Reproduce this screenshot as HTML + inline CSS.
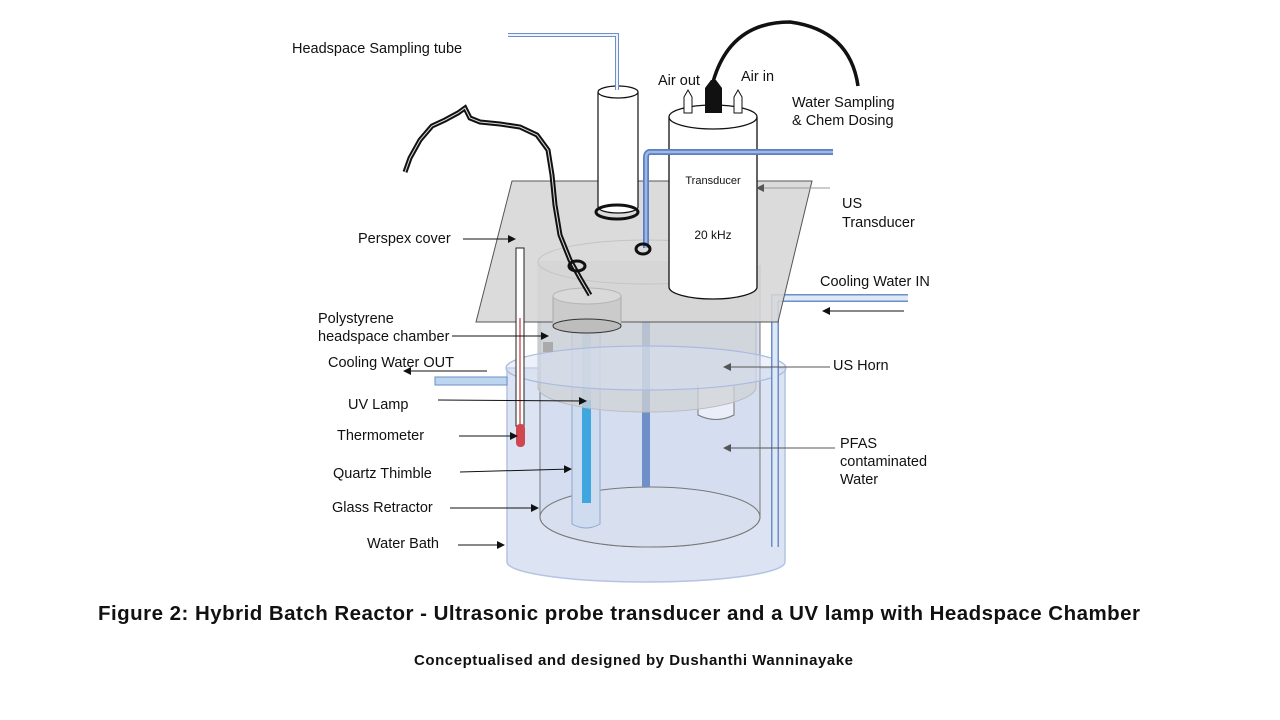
<!DOCTYPE html>
<html><head><meta charset="utf-8"><style>
html,body{margin:0;padding:0;background:#fff;}
svg{display:block;}
text{font-family:"Liberation Sans",Arial,sans-serif;fill:#111;}
</style></head><body>
<svg width="1280" height="720" viewBox="0 0 1280 720" xmlns="http://www.w3.org/2000/svg">
<defs>
<marker id="a" markerWidth="8" markerHeight="8" refX="7" refY="4" orient="auto" markerUnits="userSpaceOnUse"><path d="M0,0 L8,4 L0,8 z" fill="#111"/></marker>
<marker id="g" markerWidth="8" markerHeight="8" refX="7" refY="4" orient="auto" markerUnits="userSpaceOnUse"><path d="M0,0 L8,4 L0,8 z" fill="#555"/></marker>
</defs>
<path d="M507,368 L507,562 A139,20 0 0 0 785,562 L785,368 Z" fill="#dce4f3" stroke="#b4c4e2" stroke-width="1.5"/>
<path d="M540,265 L540,517 A110,30 0 0 0 760,517 L760,265" fill="#d5def0" stroke="#777" stroke-width="1"/>
<ellipse cx="650" cy="517" rx="110" ry="30" fill="#d8e0f0" stroke="#777" stroke-width="1"/>
<path d="M572,330 L572,524 Q586,532 600,524 L600,330" fill="#cfdcef" stroke="#8fa6cc" stroke-width="1"/>
<rect x="582" y="400" width="9" height="103" fill="#3fa6e0"/>
<rect x="582" y="330" width="9" height="70" fill="#a9c8e3"/>
<rect x="642" y="320" width="8" height="167" fill="#6f8fc8"/>
<path d="M698,385 L698,415 Q716,424 734,415 L734,385" fill="#e9eef8" stroke="#777" stroke-width="1"/>
<path d="M538,262 L538,387 A109,25 0 0 0 756,387 L756,262 Z" fill="#cfd1d6" fill-opacity="0.75" stroke="#bbb" stroke-width="1"/>
<ellipse cx="646" cy="368" rx="140" ry="22" fill="#d6e0f2" fill-opacity="0.45" stroke="#aabbe0" stroke-width="1.2"/>
<rect x="435" y="377" width="72" height="8" fill="#bcd6f0" stroke="#6d8fc8" stroke-width="1"/>
<path d="M908,298 L775,298 L775,547" fill="none" stroke="#6d8fc8" stroke-width="8"/>
<path d="M908,298 L775,298 L775,547" fill="none" stroke="#dfe8f6" stroke-width="5"/>
<polygon points="512,181 812,181 778,322 476,322" fill="#d6d6d6" fill-opacity="0.88" stroke="#555" stroke-width="1"/>
<ellipse cx="646" cy="262" rx="108" ry="22" fill="none" stroke="#c4c4c4" stroke-width="1"/>
<path d="M553,296 L553,325 A34,8 0 0 0 621,325 L621,296" fill="#cbcbcb" stroke="#aaa" stroke-width="1"/>
<ellipse cx="587" cy="296" rx="34" ry="8" fill="#d9d9d9" stroke="#b5b5b5" stroke-width="1"/>
<ellipse cx="587" cy="326" rx="34" ry="7" fill="#bdbdbd" stroke="#333" stroke-width="1"/>
<rect x="543" y="342" width="10" height="10" fill="#aaa"/>
<rect x="516" y="248" width="8" height="178" fill="#fff" stroke="#222" stroke-width="1"/>
<line x1="520" y1="318" x2="520" y2="426" stroke="#c44" stroke-width="1.3"/>
<rect x="516" y="424" width="9" height="23" rx="4" fill="#d0484f"/>
<path d="M598,92 L598,207 A20,6 0 0 0 638,207 L638,92" fill="#fff" stroke="#111" stroke-width="1.2"/>
<ellipse cx="618" cy="92" rx="20" ry="6" fill="#fff" stroke="#111" stroke-width="1.2"/>
<ellipse cx="617" cy="212" rx="21" ry="7" fill="none" stroke="#111" stroke-width="3"/>
<path d="M508,35 L617,35 L617,90" fill="none" stroke="#6d8fc8" stroke-width="4"/>
<path d="M508,35 L617,35 L617,90" fill="none" stroke="#eef3fb" stroke-width="2"/>
<path d="M669,117 L669,287 A44,12 0 0 0 757,287 L757,117" fill="#fff" stroke="#111" stroke-width="1.3"/>
<ellipse cx="713" cy="117" rx="44" ry="12" fill="#fff" stroke="#111" stroke-width="1.3"/>
<text x="713" y="184" font-size="11" text-anchor="middle">Transducer</text>
<text x="713" y="239" font-size="12" text-anchor="middle">20 kHz</text>
<path d="M684,113 L684,97 L688,90 L692,97 L692,113 Z" fill="#fff" stroke="#111"/>
<path d="M734,113 L734,97 L738,90 L742,97 L742,113 Z" fill="#fff" stroke="#111"/>
<path d="M705,113 L705,88 L711,80 L716,80 L722,88 L722,113 Z" fill="#111"/>
<path d="M713,82 Q730,22 790,22 Q850,30 858,86" fill="none" stroke="#111" stroke-width="3.5"/>
<path d="M833,152 L650,152 Q646,152 646,158 L646,248" fill="none" stroke="#5b7fc4" stroke-width="6"/>
<path d="M833,152 L650,152 Q646,152 646,158 L646,248" fill="none" stroke="#9fb8e3" stroke-width="2.5"/>
<ellipse cx="643" cy="249" rx="7" ry="5" fill="none" stroke="#111" stroke-width="3"/>
<path d="M405,172 L410,158 L420,140 L432,126 L445,120 L458,113 L465,108 L470,118 L480,122 L500,124 L520,127 L537,135 L548,150 L552,175 L555,205 L560,235 L570,260 L580,278 L590,295" fill="none" stroke="#111" stroke-width="5"/>
<path d="M405,172 L410,158 L420,140 L432,126 L445,120 L458,113 L465,108 L470,118 L480,122 L500,124 L520,127 L537,135 L548,150 L552,175 L555,205 L560,235 L570,260 L580,278 L590,295" fill="none" stroke="#ddd" stroke-width="1"/>
<ellipse cx="577" cy="266" rx="8" ry="5" fill="none" stroke="#111" stroke-width="3"/>
<g font-size="14.5">
<text x="292" y="53">Headspace Sampling tube</text>
<text x="658" y="85">Air out</text>
<text x="741" y="81">Air in</text>
<text x="792" y="107">Water  Sampling</text>
<text x="792" y="125">&amp; Chem Dosing</text>
<text x="842" y="208">US</text>
<text x="842" y="227">Transducer</text>
<text x="358" y="243">Perspex cover</text>
<text x="820" y="286">Cooling Water IN</text>
<text x="318" y="323">Polystyrene</text>
<text x="318" y="341">headspace chamber</text>
<text x="328" y="367">Cooling Water OUT</text>
<text x="348" y="409">UV Lamp</text>
<text x="337" y="440">Thermometer</text>
<text x="840" y="448">PFAS</text>
<text x="840" y="466">contaminated</text>
<text x="840" y="484">Water</text>
<text x="333" y="478">Quartz Thimble</text>
<text x="332" y="512">Glass Retractor</text>
<text x="367" y="548">Water Bath</text>
<text x="833" y="370">US Horn</text>
</g>
<g stroke="#111" stroke-width="1" fill="none">
<line x1="463" y1="239" x2="515" y2="239" marker-end="url(#a)"/>
<line x1="452" y1="336" x2="548" y2="336" marker-end="url(#a)"/>
<line x1="487" y1="371" x2="404" y2="371" marker-end="url(#a)"/>
<line x1="438" y1="400" x2="586" y2="401" marker-end="url(#a)"/>
<line x1="459" y1="436" x2="517" y2="436" marker-end="url(#a)"/>
<line x1="460" y1="472" x2="571" y2="469" marker-end="url(#a)"/>
<line x1="450" y1="508" x2="538" y2="508" marker-end="url(#a)"/>
<line x1="458" y1="545" x2="504" y2="545" marker-end="url(#a)"/>
<line x1="904" y1="311" x2="823" y2="311" marker-end="url(#a)"/>
</g>
<g stroke="#555" stroke-width="1" fill="none">
<line x1="830" y1="188" x2="757" y2="188" stroke="#999" marker-end="url(#g)"/>
<line x1="830" y1="367" x2="724" y2="367" marker-end="url(#g)"/>
<line x1="835" y1="448" x2="724" y2="448" marker-end="url(#g)"/>
</g>
<text x="98" y="620" font-size="20.5" font-weight="bold" textLength="1042" lengthAdjust="spacing">Figure 2:  Hybrid Batch Reactor - Ultrasonic probe transducer and a UV lamp with Headspace Chamber</text>
<text x="414" y="665" font-size="15" font-weight="bold" textLength="439" lengthAdjust="spacing">Conceptualised and designed by Dushanthi Wanninayake</text>
</svg>
</body></html>
